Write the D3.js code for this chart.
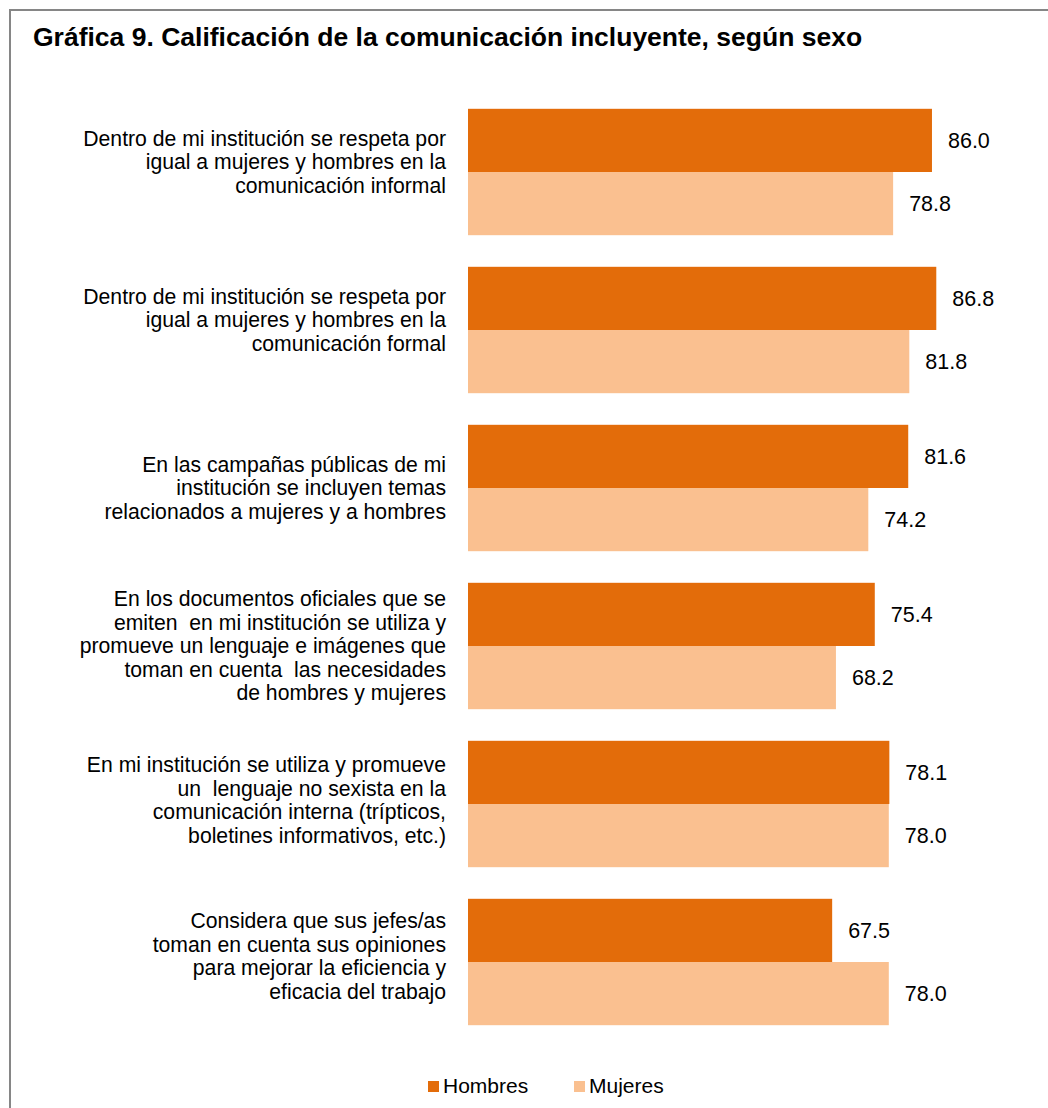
<!DOCTYPE html>
<html>
<head>
<meta charset="utf-8">
<script src="https://cdn.jsdelivr.net/npm/d3@7"></script>
<style>
  body { margin: 0; background: #fff; }
  text { font-family: "Liberation Sans", Arial, sans-serif; fill: #000; white-space: pre; }
  .title { font-size: 26.5px; font-weight: bold; }
  .cat { font-size: 21.2px; }
  .val { font-size: 21.5px; }
  .leg { font-size: 21px; }
</style>
</head>
<body>
<svg id="chart" width="1048" height="1108"></svg>
<script>
// chart data
const categories = [
  ["Dentro de mi institución se respeta por", "igual a mujeres y hombres en la", "comunicación informal"],
  ["Dentro de mi institución se respeta por", "igual a mujeres y hombres en la", "comunicación formal"],
  ["En las campañas públicas de mi", "institución se incluyen temas", "relacionados a mujeres y a hombres"],
  ["En los documentos oficiales que se", "emiten  en mi institución se utiliza y", "promueve un lenguaje e imágenes que", "toman en cuenta  las necesidades", "de hombres y mujeres"],
  ["En mi institución se utiliza y promueve", "un  lenguaje no sexista en la", "comunicación interna (trípticos,", "boletines informativos, etc.)"],
  ["Considera que sus jefes/as", "toman en cuenta sus opiniones", "para mejorar la eficiencia y", "eficacia del trabajo"]
]
const hombres = [86.0, 86.8, 81.6, 75.4, 78.1, 67.5]
const mujeres = [78.8, 81.8, 74.2, 68.2, 78.0, 78.0]
const seriesNames = ["Hombres", "Mujeres"]
const seriesColors = ["#E36C0A", "#FAC090"]

// small vertical nudges of the wrapped labels, as in the original layout
const labelShift = [-10, -10, 0, 0, -4, -6]

const svg = d3.select("#chart")

// outer frame (only top and left edges are inside the picture)
svg.append("rect")
    .attr("x", 10).attr("y", 10)
    .attr("width", 1100).attr("height", 1200)
    .attr("fill", "none")
    .attr("stroke", "#868686")
    .attr("stroke-width", 2)

svg.append("text")
    .classed("title", true)
    .attr("x", 33)
    .attr("y", 46)
    .text("Gráfica 9. Calificación de la comunicación incluyente, según sexo")

const idx = d3.range(categories.length)
const yScale = d3.scaleBand().domain(idx).range([93, 1041]).paddingInner(0.2).paddingOuter(0.1)
const sub = d3.scaleBand().domain(seriesNames).range([0, yScale.bandwidth()])
const xScale = d3.scaleLinear().domain([0, 100]).range([468, 1007.5])

const rows = idx.map(i => seriesNames.map((s, j) => ({
    i: i, s: s, color: seriesColors[j], v: j === 0 ? hombres[i] : mujeres[i]
}))).flat()

const plot = svg.append("g")

plot.selectAll(".bar")
    .data(rows)
    .enter()
    .append("rect")
    .classed("bar", true)
    .attr("x", xScale(0))
    .attr("y", d => yScale(d.i) + sub(d.s))
    .attr("width", d => xScale(d.v) - xScale(0))
    .attr("height", sub.bandwidth())
    .attr("fill", d => d.color)

plot.selectAll(".val")
    .data(rows)
    .enter()
    .append("text")
    .classed("val", true)
    .attr("x", d => xScale(d.v) + 16)
    .attr("y", d => yScale(d.i) + sub(d.s) + sub.bandwidth() / 2)
    .attr("dy", "0.35em")
    .text(d => d.v.toFixed(1))

// category labels, right aligned, several lines each
const lineH = 23.5
const cats = svg.selectAll(".cat")
    .data(categories)
    .enter()
    .append("text")
    .classed("cat", true)
    .attr("text-anchor", "end")
    .attr("transform", (d, i) => `translate(446, ${yScale(i) + yScale.bandwidth() / 2 - (d.length - 1) * lineH / 2 + labelShift[i]})`)

cats.selectAll("tspan")
    .data(d => d)
    .enter()
    .append("tspan")
    .attr("x", 0)
    .attr("y", (d, k) => k * lineH)
    .attr("dy", "0.35em")
    .text(d => d)

// legend
const legX = [428, 574]
const leg = svg.selectAll(".legItem")
    .data(seriesNames)
    .enter()
    .append("g")
    .classed("legItem", true)
    .attr("transform", (d, j) => `translate(${legX[j]}, 1086)`)

leg.append("rect")
    .attr("x", 0).attr("y", -5)
    .attr("width", 11).attr("height", 11)
    .attr("fill", (d, j) => seriesColors[j])

leg.append("text")
    .classed("leg", true)
    .attr("x", 15)
    .attr("y", 0)
    .attr("dy", "0.35em")
    .text(d => d)
</script>
</body>
</html>
